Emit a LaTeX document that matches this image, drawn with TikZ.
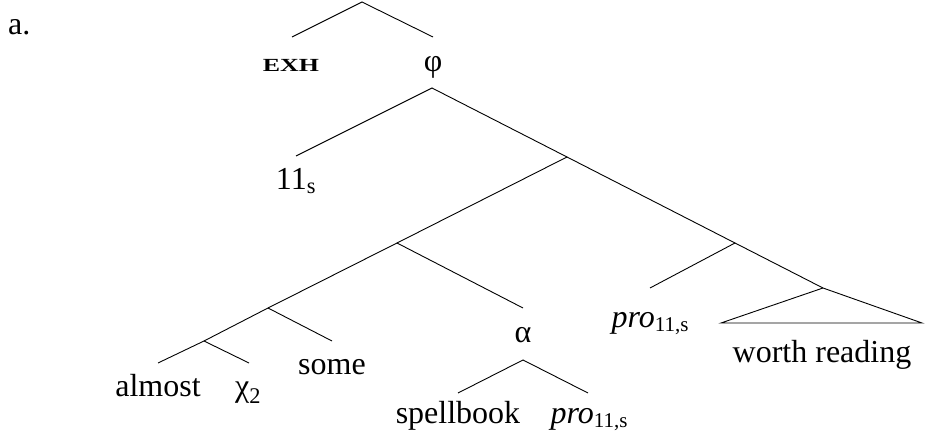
\documentclass[tikz,border=0pt]{standalone}
\usepackage{fontspec}
\setmainfont{Liberation Serif}
\usepackage{graphicx}
\begin{document}
\begin{tikzpicture}[x=1pt,y=-1pt,
  lbl/.style={anchor=base,inner sep=0pt,font=\fontsize{32pt}{38pt}\selectfont},
  br/.style={line width=0.9pt}]
\useasboundingbox (0,0) rectangle (937,435);
% labels
\node[lbl,anchor=base west] (ex) at (8,35) {a.};
\node[lbl] (exh) at (291,72) {\scalebox{1.4}[1]{\fontsize{18.5pt}{18pt}\selectfont\bfseries EXH}};
\node[lbl] (phi) at (433,72) {φ};
\node[lbl] (n11) at (296,190) {11\textsubscript{s}};
\node[lbl] (almost) at (158,397) {almost};
\node[lbl] (chi) at (248,397) {χ\textsubscript{2}};
\node[lbl] (some) at (332,374) {some};
\node[lbl] (alpha) at (523,343) {α};
\node[lbl] (spell) at (458,424) {spellbook};
\node[lbl] (proB) at (589,424) {\textit{pro}\raisebox{-4pt}{\fontsize{21pt}{21pt}\selectfont 11,s}};
\node[lbl] (proA) at (650,328) {\textit{pro}\raisebox{-4pt}{\fontsize{21pt}{21pt}\selectfont 11,s}};
\node[lbl] (worth) at (822,363) {worth reading};
% branch points and line ends
\coordinate (top) at (362,2);
\coordinate (topL) at (292,37);
\coordinate (topR) at (433,37);
\coordinate (phiT) at (432,88);
\coordinate (e11) at (296,156);
\coordinate (v1) at (567,157);
\coordinate (v2) at (397,243);
\coordinate (v3) at (268,308);
\coordinate (v4) at (204,341);
\coordinate (eAlm) at (158,363);
\coordinate (eChi) at (249,363);
\coordinate (eSome) at (332,341);
\coordinate (eAl) at (523,308);
\coordinate (alT) at (523,360);
\coordinate (eSp) at (458,393);
\coordinate (ePro) at (588,393);
\coordinate (w1) at (735,243);
\coordinate (eProA) at (650,288);
\coordinate (tA) at (823,288);
\coordinate (tL) at (721,323);
\coordinate (tR) at (922,323);
% connectors
\draw[br] (topL) -- (top) -- (topR);
\draw[br] (e11) -- (phiT) -- (v1) -- (w1) -- (tA);
\draw[br] (v1) -- (v2) -- (v3) -- (v4) -- (eAlm);
\draw[br] (v2) -- (eAl);
\draw[br] (v3) -- (eSome);
\draw[br] (v4) -- (eChi);
\draw[br] (eSp) -- (alT) -- (ePro);
\draw[br] (w1) -- (eProA);
\draw[br] (tA) -- (tL) -- (tR) -- cycle;
\end{tikzpicture}
\end{document}
